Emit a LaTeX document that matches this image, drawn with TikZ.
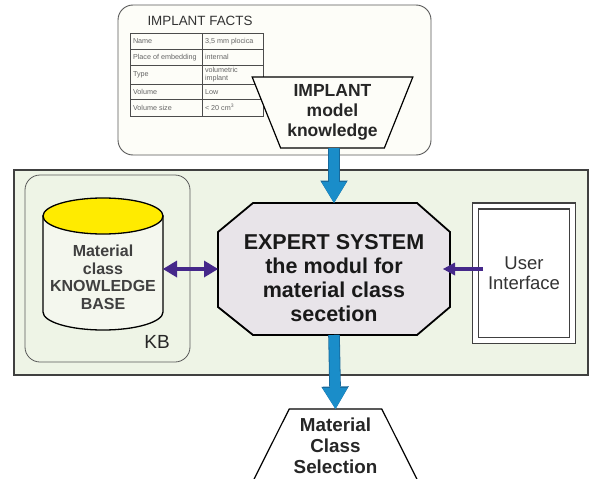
\documentclass[tikz,border=0pt]{standalone}
\usepackage{fontspec}
\setmainfont{Liberation Sans}
\usetikzlibrary{arrows.meta}
\usetikzlibrary{shapes.geometric}

\definecolor{panelgreen}{HTML}{EEF4E6}
\definecolor{cylgreen}{HTML}{F4F7EE}
\definecolor{esgrey}{HTML}{E8E4E9}
\definecolor{flowblue}{HTML}{1A8DC9}
\definecolor{flowdark}{HTML}{17699C}
\definecolor{linkpurple}{HTML}{45288A}
\definecolor{kbyellow}{HTML}{FFEB00}
\definecolor{paper}{HTML}{FDFDF8}

\tikzset{
  factsbox/.style={draw=black!65, line width=0.9pt, rounded corners=15pt, fill=paper,
    minimum width=313pt, minimum height=150pt},
  celltext/.style={anchor=west, font=\fontsize{7.2}{7.6}\selectfont, text=black!60, align=left},
  tabline/.style={draw=black!70, line width=0.7pt},
  implantbox/.style={trapezium, shape border rotate=180, trapezium left angle=66,
    trapezium right angle=66, trapezium stretches=true, minimum width=161pt, minimum height=71pt,
    draw=black, line width=1.2pt, fill=paper, align=center,
    font=\fontsize{17.5}{20}\selectfont\bfseries, text=black!85},
  panel/.style={draw=black!75, line width=1.5pt, fill=panelgreen},
  kbframe/.style={draw=black!65, line width=0.8pt, rounded corners=15pt,
    minimum width=165pt, minimum height=187pt},
  cylbody/.style={draw=black, line width=1.3pt, fill=cylgreen},
  cyltop/.style={draw=black, line width=1.3pt, fill=kbyellow},
  kbtext/.style={minimum width=120pt, align=center,
    font=\fontsize{16}{17.5}\selectfont\bfseries, text=black!75},
  esshape/.style={draw=black, line width=1.8pt, fill=esgrey, line join=miter},
  esbox/.style={minimum width=232pt, minimum height=132pt},
  estextstyle/.style={align=center, font=\fontsize{21.5}{24}\selectfont\bfseries, text=black!90},
  uibox/.style={draw=black!75, line width=1.5pt, double=white, double distance=4.5pt, fill=white,
    minimum width=97pt, minimum height=134.5pt, align=center,
    font=\fontsize{18.5}{20}\selectfont, text=black!80},
  mcsbox/.style={trapezium, trapezium left angle=64, trapezium right angle=64,
    trapezium stretches=true, minimum width=183pt, minimum height=90pt, inner sep=3pt,
    draw=black, line width=1.2pt, fill=white},
  mcstextstyle/.style={align=center, font=\fontsize{18.8}{21}\selectfont\bfseries, text=black!85},
  flow/.style={draw=flowblue, line width=10pt,
    -{Triangle[width=25pt, length=21pt, line width=0pt]},
    preaction={draw=flowdark, line width=11.6pt,
      -{Triangle[width=27.5pt, length=22.5pt, line width=0pt]}}},
  link/.style={draw=linkpurple, line width=4.5pt,
    {Triangle[width=17pt, length=14pt, line width=0pt]}-{Triangle[width=17pt, length=14pt, line width=0pt]}},
  uilink/.style={draw=linkpurple, line width=4pt,
    -{Triangle[width=13pt, length=12pt, line width=0pt]}}
}

\begin{document}
\begin{tikzpicture}[x=1pt, y=-1pt, every node/.style={inner sep=0pt, outer sep=0pt}]
  \clip (0,0) rectangle (589,479);
  \fill[white] (0,0) rectangle (589,479);

  \node (facts) [factsbox] at (274.5,80) {};
  \node (factstitle) [anchor=base, font=\fontsize{13.4}{16}\selectfont, text=black!80] at (200,25) {IMPLANT FACTS};
  \draw[tabline] (130,33) rectangle (263,116);
  \foreach \y in {49.5,65,84,99.5}
    \draw[tabline] (130,\y) -- (263,\y);
  \draw[tabline] (202,33) -- (202,116);
  \foreach \y/\a/\b [count=\i] in {41.2/Name/{3,5 mm plocica},
      57.2/Place of embedding/internal, 74.5/Type/{volumetric\\implant},
      91.7/Volume/Low, 107.7/Volume size/{< 20 cm\textsuperscript{3}}} {
    \node (key\i) [celltext] at (133,\y) {\a};
    \node (val\i) [celltext] at (205,\y) {\b};
  }
  \node (implant) [implantbox] at (332.5,112.5) {IMPLANT\\model\\knowledge};

  \draw[panel] (14,170) rectangle (588,375);
  \node (kbbox) [kbframe] at (107.5,268.5) {};
  \filldraw[cylbody] (43,216) -- (43,312) arc[start angle=180, end angle=0, x radius=60, y radius=18] -- (163,216) -- cycle;
  \filldraw[cyltop] (103,216) ellipse[x radius=60, y radius=18];
  \node (kb) [kbtext] at (103,277.5) {Material\\class\\KNOWLEDGE\\BASE};
  \node (kblabel) [anchor=base, font=\fontsize{19}{22}\selectfont, text=black!85] at (157,348) {KB};

  \filldraw[esshape] (253,203) -- (417,203) -- (450,232) -- (450,307) -- (417,335)
    -- (253,335) -- (218,307) -- (218,232) -- cycle;
  \node (es) [esbox] at (334,269) {};
  \node (estext) [estextstyle] at (334,278) {EXPERT SYSTEM\\the modul for\\material class\\secetion};
  \node (ui) [uibox] at (524,273) {User\\Interface};

  \node (mcs) [mcsbox, anchor=north] at (335.5,409) {};
  \node (mcstext) [mcstextstyle] at (335.5,446) {Material\\Class\\Selection};

  \draw[flow] (es.north |- implant.south) -- (es.north);
  \draw[flow] (es.south) -- (mcs.north);
  \draw[link] (kb.east |- es.west) -- (es.west);
  \draw[uilink, shorten <=-7.5pt, shorten >=-7pt] (ui.west |- es.east) -- (es.east);
\end{tikzpicture}
\end{document}
